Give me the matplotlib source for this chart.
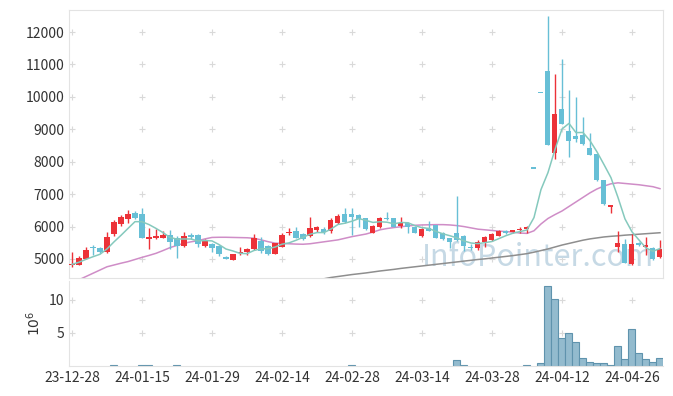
import numpy as np
import matplotlib
matplotlib.use("Agg")
import matplotlib.pyplot as plt

plt.rcParams['font.family'] = ['Noto Sans CJK KR', 'DejaVu Sans']

# x tick labels, one every 10 trading days
tick_labels = ['23-12-28', '24-01-15', '24-01-29', '24-02-14', '24-02-28',
               '24-03-14', '24-03-28', '24-04-12', '24-04-26']

opens = [4800, 4820, 5000, 5380, 5350, 5230, 5780, 6080, 6240, 6410,
         6380, 5630, 5640, 5660, 5740, 5640, 5410, 5740, 5740, 5410,
         5460, 5410, 5070, 4980, 5180, 5210, 5310, 5570, 5410, 5150,
         5380, 5795, 5860, 5760, 5720, 5880, 5920, 5875, 6100, 6390,
         6380, 6350, 6260, 5810, 6000, 6265, 6265, 6020, 6100, 6000,
         5720, 5970, 6050, 5810, 5640, 5790, 5710, 5370, 5350, 5535,
         5590, 5720, 5864, 5824, 5895, 5917, 7780, 10110, 10800, 8260,
         9630, 8950, 8800, 8830, 8420, 8240, 7440, 6614, 5380, 5450,
         4840, 5485, 5380, 5350, 5050]
highs = [5220, 5080, 5360, 5430, 5380, 5820, 6200, 6360, 6520, 6480,
         6560, 5950, 5930, 5860, 5890, 5700, 5840, 5810, 5770, 5620,
         5500, 5420, 5090, 5160, 5360, 5330, 5760, 5670, 5420, 5500,
         5800, 5950, 5980, 5800, 6300, 6030, 5980, 6250, 6390, 6560,
         6560, 6380, 6280, 6040, 6300, 6450, 6280, 6300, 6130, 6020,
         5950, 6180, 6060, 5830, 5660, 6950, 5740, 5460, 5600, 5720,
         5790, 5900, 5880, 5900, 5980, 6010, 7780, 10110, 12500, 10700,
         11160, 10215, 9990, 9370, 8880, 8250, 7440, 6680, 5860, 5610,
         5760, 5520, 5690, 5380, 5590]
lows = [4750, 4810, 4990, 5130, 5180, 5180, 5720, 6030, 6100, 6230,
        5660, 5310, 5610, 5640, 5300, 5020, 5380, 5610, 5380, 5360,
        5210, 5100, 4990, 4960, 5120, 5130, 5290, 5200, 5120, 5140,
        5360, 5740, 5640, 5580, 5670, 5830, 5780, 5800, 6080, 6120,
        5740, 5980, 5900, 5790, 5950, 6200, 5980, 5950, 5810, 5790,
        5680, 5850, 5640, 5580, 5330, 5560, 5256, 5270, 5290, 5380,
        5560, 5700, 5780, 5800, 5790, 5790, 7780, 10110, 8520, 8080,
        9150, 8160, 8600, 8520, 8200, 7400, 6680, 6410, 5210, 4880,
        4830, 5400, 5120, 4980, 5040]
closes = [4850, 5040, 5280, 5330, 5230, 5670, 6130, 6290, 6390, 6280,
          5660, 5690, 5700, 5740, 5530, 5410, 5710, 5690, 5450, 5590,
          5350, 5150, 5000, 5145, 5225, 5300, 5640, 5260, 5160, 5480,
          5740, 5845, 5660, 5620, 5950, 6000, 5845, 6200, 6330, 6150,
          6305, 6245, 5920, 6020, 6256, 6235, 6000, 6120, 5980, 5810,
          5925, 5875, 5660, 5610, 5515, 5590, 5410, 5340, 5515, 5670,
          5760, 5864, 5793, 5895, 5917, 6000, 7780, 10110, 8520, 9475,
          9160, 8650, 8690, 8540, 8210, 7440, 6690, 6666, 5500, 4890,
          5450, 5430, 5430, 4990, 5310]

# volume in millions of shares
volume = [0, 0, 0, 0, 0, 0, 0.1, 0, 0, 0,
          0.1, 0.1, 0, 0, 0, 0.1, 0, 0, 0, 0,
          0, 0, 0, 0, 0, 0, 0, 0, 0, 0,
          0, 0, 0, 0, 0, 0, 0, 0, 0, 0,
          0.1, 0, 0, 0, 0, 0, 0, 0, 0, 0,
          0, 0, 0, 0, 0, 0.9, 0.15, 0, 0, 0,
          0, 0, 0, 0, 0, 0.15, 0, 0.45, 12.1, 10.1,
          4.2, 4.9, 3.6, 1.2, 0.6, 0.45, 0.45, 0.2, 3.0, 1.1,
          5.6, 2.0, 1.1, 0.6, 1.2]

# moving averages
ma5 = [4835, 4900, 4990, 5070, 5146, 5310, 5528, 5730, 5942, 6152,
       6150, 6062, 5944, 5814, 5664, 5614, 5618, 5616, 5558, 5570,
       5558, 5446, 5308, 5247, 5174, 5164, 5262, 5314, 5317, 5368,
       5456, 5497, 5577, 5669, 5763, 5815, 5815, 5923, 6065, 6105,
       6166, 6246, 6190, 6128, 6149, 6135, 6086, 6126, 6118, 6029,
       5967, 5942, 5850, 5776, 5717, 5650, 5557, 5493, 5474, 5505,
       5539, 5630, 5720, 5796, 5846, 5894, 6277, 7140, 7665, 8377,
       9009, 9183, 8899, 8903, 8650, 8306, 7914, 7509, 6901, 6237,
       5839, 5587, 5340, 5238, 5322]
ma20 = [4260, 4360, 4460, 4560, 4660, 4760, 4815, 4870, 4920, 4985,
        5050, 5110, 5175, 5260, 5350, 5420, 5485, 5530, 5565, 5620,
        5665, 5670, 5670, 5665, 5660, 5655, 5640, 5590, 5535, 5490,
        5480, 5470, 5460, 5455, 5470, 5500, 5530, 5560, 5590, 5640,
        5690, 5730, 5770, 5830, 5900, 5940, 5970, 5995, 6020, 6040,
        6050, 6055, 6060, 6060, 6050, 6030, 6000, 5960, 5920, 5900,
        5880, 5860, 5845, 5830, 5800, 5790, 5870, 6080, 6250, 6370,
        6480, 6620, 6760, 6900, 7040, 7160, 7250, 7320, 7350, 7330,
        7310, 7290, 7260, 7230, 7170]
ma60 = [np.nan] * 36 + [
        4390, 4430, 4460, 4490, 4520, 4545, 4570, 4600, 4630, 4655,
        4680, 4710, 4735, 4760, 4785, 4810, 4835, 4860, 4885, 4910,
        4935, 4960, 4985, 5005, 5030, 5055, 5080, 5105, 5135, 5165,
        5210, 5260, 5310, 5370, 5430, 5480, 5530, 5580, 5620, 5650,
        5680, 5700, 5715, 5735, 5750, 5765, 5780, 5795, 5810]

RED = '#ec3238'
BLUE = '#67bfd6'
GRID = '#d9d9d9'
SPINE = '#e3e3e3'

x = np.arange(len(closes))
o = np.array(opens, float)
c = np.array(closes, float)
up = c > o
cols = [RED if u else BLUE for u in up]

fig = plt.figure(figsize=(6.73, 3.96), dpi=100)
ax = fig.add_axes([0.1025, 0.298, 0.8826, 0.677])
axv = fig.add_axes([0.1025, 0.0758, 0.8826, 0.2146])

xticks = np.arange(0, 90, 10)

# price panel
ax.set_xlim(-0.43, 84.43)
ax.set_ylim(4414, 12684)
yticks = np.arange(5000, 12001, 1000)
gx, gy = np.meshgrid(xticks, yticks)
ax.plot(gx.ravel(), gy.ravel(), '+', color=GRID, ms=5, mew=0.8, zorder=0)

ax.text(0.79, 0.078, 'InfoPointer.com', transform=ax.transAxes,
        fontsize=22, color='#c6d9e5', ha='center', va='center', zorder=1)

ax.vlines(x, lows, highs, colors=cols, lw=1, zorder=3)
body_h = np.maximum(np.abs(c - o), 45)
ax.bar(x, body_h, bottom=np.minimum(o, c), width=0.72, color=cols,
       linewidth=0, zorder=4)

ax.plot(x, ma20, color='#cf8dc7', lw=1.1, zorder=2)
ax.plot(x, ma60, color='#8e8e8e', lw=1.1, zorder=2)
ax.plot(x, ma5, color='#85c9bd', lw=1.1, zorder=5)

ax.set_yticks(yticks)
ax.set_xticks(xticks)
ax.tick_params(length=0, labelbottom=False, labelsize=10, colors='#333333')
for s in ax.spines.values():
    s.set_color(SPINE)

# volume panel
axv.set_xlim(-0.43, 84.43)
axv.set_ylim(0, 12.8)
vx, vy = np.meshgrid(xticks, [5, 10])
axv.plot(vx.ravel(), vy.ravel(), '+', color=GRID, ms=5, mew=0.8, zorder=0)
vedges = ['#5f93ad' if v > 0 else 'none' for v in volume]
axv.bar(x, volume, width=1.0, color='#93bbce', edgecolor=vedges,
        linewidth=0.8, zorder=2)
axv.set_yticks([5, 10])
axv.set_xticks(xticks)
axv.set_xticklabels(tick_labels)
axv.tick_params(length=0, labelsize=10, colors='#333333')
axv.set_ylabel(r'$10^{6}$', fontsize=10, color='#333333')
axv.spines['top'].set_visible(False)
axv.spines['right'].set_visible(False)
axv.spines['left'].set_color(SPINE)
axv.spines['bottom'].set_color(SPINE)

fig.savefig('out.png', dpi=100)
